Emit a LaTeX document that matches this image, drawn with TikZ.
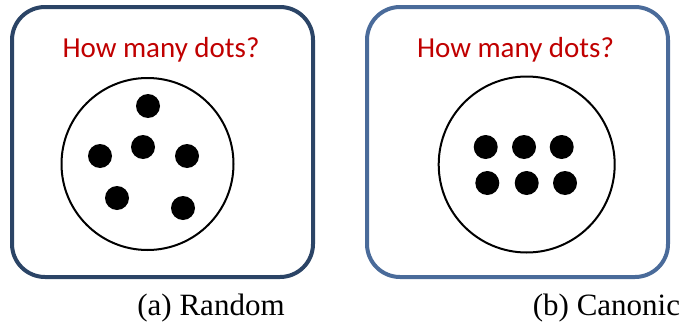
\documentclass[tikz,border=0pt]{standalone}
\usepackage{fontspec}
\setmainfont{Liberation Serif}
\newfontfamily\calib{Carlito}
\definecolor{navyA}{HTML}{2B4466}
\definecolor{navyB}{HTML}{4A6B9A}
\definecolor{qred}{HTML}{C00000}
\begin{document}
\begin{tikzpicture}[x=1pt,y=-1pt,
  panel/.style={draw, line width=4pt, rounded corners=33pt},
  question/.style={text=qred, font=\calib\fontsize{29}{32}\selectfont, inner sep=0pt},
  ring/.style={draw, line width=2pt, circle, inner sep=0pt},
  dot/.style={fill=black, circle, inner sep=0pt, minimum size=24pt},
  caption/.style={font=\fontsize{31}{34}\selectfont, inner sep=0pt, anchor=base}]
\useasboundingbox (0,0) rectangle (685,324);
% left panel
\draw[panel, draw=navyA] (12,7) rectangle (313,277);
\node[question] (qa) at (161,50) {How many dots?};
\node[ring, minimum size=172pt] (ca) at (147.5,164) {};
\node[dot] (a1) at (148,106) {};
\node[dot] (a2) at (143,147) {};
\node[dot] (a3) at (100,156) {};
\node[dot] (a4) at (187,156) {};
\node[dot] (a5) at (117,198) {};
\node[dot] (a6) at (183,208) {};
\node[caption] (capa) at (211,315) {(a) Random};
% right panel
\draw[panel, draw=navyB] (367,7) rectangle (668,277);
\node[question] (qb) at (515.5,50) {How many dots?};
\node[ring, minimum size=176pt] (cb) at (526.7,164.5) {};
\node[dot] (b1) at (485.7,147) {};
\node[dot] (b2) at (524,147) {};
\node[dot] (b3) at (561.7,147) {};
\node[dot] (b4) at (487.3,183) {};
\node[dot] (b5) at (526.7,183) {};
\node[dot] (b6) at (565,183) {};
\node[caption] (capb) at (606.5,315) {(b) Canonic};
\end{tikzpicture}
\end{document}
